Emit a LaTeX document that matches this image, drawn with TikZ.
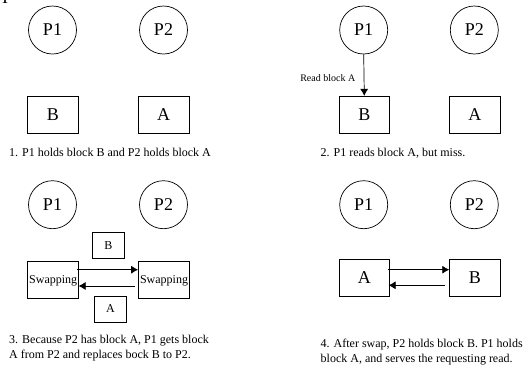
\documentclass[tikz,border=0pt]{standalone}
\usepackage{fontspec}
\setmainfont{Liberation Serif}
\usetikzlibrary{arrows.meta,calc}
\begin{document}
\begin{tikzpicture}[x=1pt,y=-1pt,
  proc/.style={draw,circle,line width=0.7pt,minimum size=48pt,inner sep=0pt,font=\fontsize{18}{20}\selectfont},
  blk/.style={draw,rectangle,line width=0.7pt,minimum width=50.5pt,minimum height=37pt,inner sep=0pt,font=\fontsize{18}{20}\selectfont},
  sblk/.style={draw,rectangle,line width=0.7pt,minimum width=32pt,minimum height=26pt,inner sep=0pt,font=\fontsize{12}{14}\selectfont},
  capline/.style={anchor=base west,inner sep=0pt,font=\fontsize{12}{14}\selectfont},
  small/.style={anchor=base east,inner sep=0pt,font=\fontsize{10}{12}\selectfont},
  swtext/.style={anchor=base west,inner sep=0pt,font=\fontsize{12}{14}\selectfont},
  arr/.style={line width=0.7pt,-{Latex[length=7pt,width=8pt]}}
]
\useasboundingbox (0,0) rectangle (525,365);

% leftover glyph at the top edge
\node[anchor=base,inner sep=0pt,font=\fontsize{18}{20}\selectfont] (frag) at (5,3) {I};

% 1. initial state
\node[proc] (p1a) at (52.5,30) {P1};
\node[proc] (p2a) at (163.5,30) {P2};
\node[blk] (ba) at (53,114.7) {B};
\node[blk] (aa) at (163.7,114.7) {A};
\node[capline] (c1) at (9,156) {1. P1 holds block B and P2 holds block A};

% 2. read miss
\node[proc] (p1b) at (363.7,30) {P1};
\node[proc] (p2b) at (474.3,30) {P2};
\node[blk] (bb) at (364.3,114.7) {B};
\node[blk] (ab) at (474.85,114.7) {A};
\draw[arr] (p1b.south) -- (bb.north);
\node[small] (rd) at (355.5,81) {Read block A};
\node[capline] (c2) at (320.5,156) {2. P1 reads block A, but miss.};

% 3. swapping
\node[proc] (p1c) at (52.5,204.7) {P1};
\node[proc] (p2c) at (163.5,204.7) {P2};
\node[blk] (s1) at (53,280) {};
\node[blk] (s2) at (163.7,280) {};
\node[swtext] (s1t) at (29,283) {Swapping};
\node[swtext] (s2t) at (139.8,283.5) {Swapping};
\node[sblk] (mb) at (108.5,245.7) {B};
\node[sblk] (ma) at (110.5,309) {A};
\draw[arr] ($(s1.east)+(-1.6,-10.3)$) -- ($(s2.west)+(0,-10.3)$);
\draw[arr] ($(s2.west)+(-3.3,6)$) -- ($(s1.east)+(0,6)$);
\node[capline] (c3a) at (9,343) {3. Because P2 has block A, P1 gets block};
\node[capline] (c3b) at (9,358.7) {A from P2 and replaces bock B to P2.};

% 4. after the swap
\node[proc] (p1d) at (363.7,204.7) {P1};
\node[proc] (p2d) at (474.3,204.7) {P2};
\node[blk] (ad) at (364.3,277.8) {A};
\node[blk] (bd) at (474.85,277.8) {B};
\draw[arr] ($(ad.east)+(-2.3,-8.1)$) -- ($(bd.west)+(0,-8.1)$);
\draw[arr] ($(bd.west)+(-4.4,7.5)$) -- ($(ad.east)+(-1.3,7.5)$);
\node[capline] (c4a) at (320.5,347.5) {4. After swap, P2 holds block B. P1 holds};
\node[capline] (c4b) at (320.5,362) {block A, and serves the requesting read.};
\end{tikzpicture}
\end{document}
